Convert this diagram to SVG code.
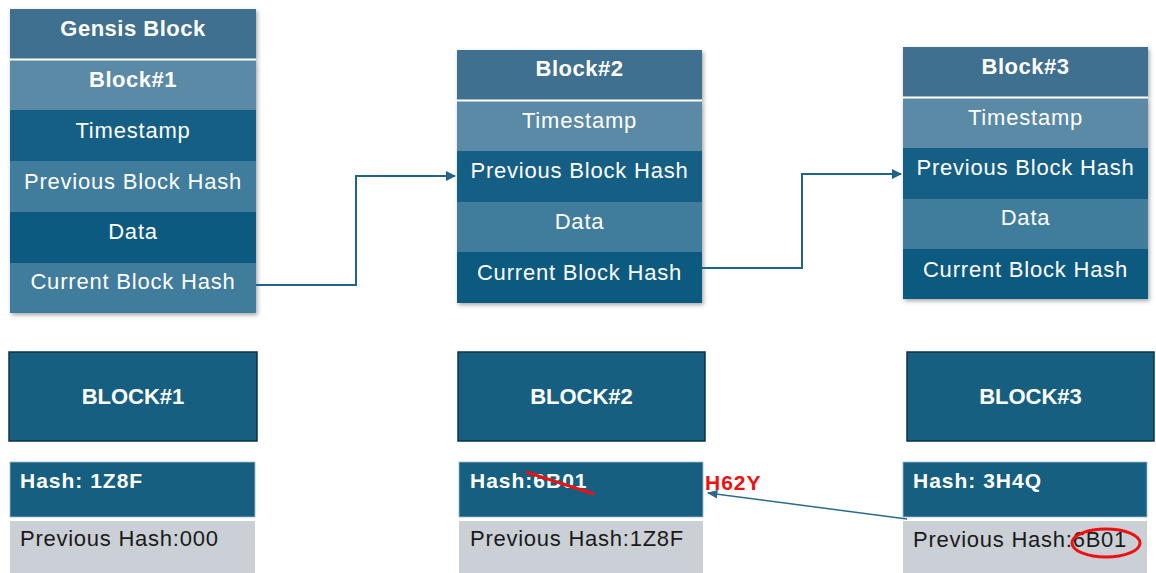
<svg xmlns="http://www.w3.org/2000/svg" width="1156" height="573" viewBox="0 0 1156 573">
  <style>
    .hdr { fill: #41708f; }
    .light { fill: #5a8aa6; }
    .mid { fill: #3f7c9c; }
    .dark { fill: #175f84; }
    .darker { fill: #0f5a80; }
    .sep { stroke: #ffffff; stroke-width: 2; }
    .t { font-family: "Liberation Sans", Arial, sans-serif; fill: #ffffff; text-anchor: middle; font-size: 22px; letter-spacing: 0.8px; }
    .tb { font-family: "Liberation Sans", Arial, sans-serif; fill: #ffffff; text-anchor: middle; font-size: 22px; font-weight: bold; letter-spacing: 0.5px; }
    .bb { font-family: "Liberation Sans", Arial, sans-serif; fill: #ffffff; text-anchor: middle; font-size: 22px; font-weight: bold; }
    .big { fill: #165f80; stroke: #0c3346; stroke-width: 1.5; }
    .hash { fill: #165f80; stroke: #9fb8c8; stroke-width: 0.8; }
    .prev { fill: #cbd0d7; }
    .hl { font-family: "Liberation Sans", Arial, sans-serif; fill: #ffffff; font-size: 21px; font-weight: bold; letter-spacing: 1px; }
    .pl { font-family: "Liberation Sans", Arial, sans-serif; fill: #1a1a1a; font-size: 22px; letter-spacing: 0.75px; }
    .link { fill: none; stroke: #1d6488; stroke-width: 2; }
    .red { fill: none; stroke: #ee1111; stroke-width: 3; }
  </style>
  <defs>
    <filter id="shadow" x="-10%" y="-10%" width="120%" height="120%">
      <feDropShadow dx="1.5" dy="2" stdDeviation="2" flood-color="#000000" flood-opacity="0.35"/>
    </filter>
    <marker id="arrow" viewBox="0 0 10 10" refX="9" refY="5" markerWidth="5" markerHeight="5" orient="auto">
      <path d="M0,0 L10,5 L0,10 z" fill="#1d6488"/>
    </marker>
    <marker id="arrowThin" viewBox="0 0 10 10" refX="9" refY="5" markerWidth="7" markerHeight="7" orient="auto">
      <path d="M0,1 L10,5 L0,9 z" fill="#2a6a8c"/>
    </marker>
  </defs>

  <rect width="1156" height="573" fill="#ffffff"/>

  <!-- Linked chain: upper blocks -->
  <g id="genesis-block">
    <g filter="url(#shadow)">
      <rect class="hdr" x="10" y="9" width="246" height="50"/>
      <rect class="light" x="10" y="60" width="246" height="50"/>
      <rect class="dark" x="10" y="110" width="246" height="51"/>
      <rect class="mid" x="10" y="161" width="246" height="51"/>
      <rect class="darker" x="10" y="212" width="246" height="51"/>
      <rect class="mid" x="10" y="263" width="246" height="50"/>
    </g>
    <line class="sep" x1="10" y1="59.5" x2="256" y2="59.5"/>
    <text class="tb" x="133" y="36">Gensis Block</text>
    <text class="tb" x="133" y="87">Block#1</text>
    <text class="t" x="133" y="138">Timestamp</text>
    <text class="t" x="133" y="189">Previous Block Hash</text>
    <text class="t" x="133" y="239">Data</text>
    <text class="t" x="133" y="289">Current Block Hash</text>
  </g>

  <g id="block-2">
    <g filter="url(#shadow)">
      <rect class="hdr" x="457" y="50" width="245" height="50"/>
      <rect class="light" x="457" y="101" width="245" height="50"/>
      <rect class="dark" x="457" y="151" width="245" height="51"/>
      <rect class="mid" x="457" y="202" width="245" height="50"/>
      <rect class="darker" x="457" y="252" width="245" height="51"/>
    </g>
    <line class="sep" x1="457" y1="100.5" x2="702" y2="100.5"/>
    <text class="tb" x="579.5" y="76">Block#2</text>
    <text class="t" x="579.5" y="128">Timestamp</text>
    <text class="t" x="579.5" y="178">Previous Block Hash</text>
    <text class="t" x="579.5" y="229">Data</text>
    <text class="t" x="579.5" y="280">Current Block Hash</text>
  </g>

  <g id="block-3">
    <g filter="url(#shadow)">
      <rect class="hdr" x="903" y="47" width="245" height="50"/>
      <rect class="light" x="903" y="98" width="245" height="50"/>
      <rect class="dark" x="903" y="148" width="245" height="51"/>
      <rect class="mid" x="903" y="199" width="245" height="50"/>
      <rect class="darker" x="903" y="249" width="245" height="50"/>
    </g>
    <line class="sep" x1="903" y1="97.5" x2="1148" y2="97.5"/>
    <text class="tb" x="1025.5" y="74">Block#3</text>
    <text class="t" x="1025.5" y="125">Timestamp</text>
    <text class="t" x="1025.5" y="175">Previous Block Hash</text>
    <text class="t" x="1025.5" y="225">Data</text>
    <text class="t" x="1025.5" y="277">Current Block Hash</text>
  </g>

  <!-- Lower row: hash view of each block -->
  <g id="block-1-hash">
    <rect class="big" x="9" y="352" width="248" height="89"/>
    <text class="bb" x="133" y="404">BLOCK#1</text>
    <rect class="hash" x="10" y="462" width="245" height="55"/>
    <text class="hl" x="20" y="488">Hash: 1Z8F</text>
    <rect class="prev" x="10" y="521" width="245" height="52"/>
    <text class="pl" x="20" y="546">Previous Hash:000</text>
  </g>

  <g id="block-2-hash">
    <rect class="big" x="458" y="352" width="247" height="89"/>
    <text class="bb" x="581.5" y="404">BLOCK#2</text>
    <rect class="hash" x="459" y="462" width="244" height="55"/>
    <text class="hl" x="470" y="488">Hash:6B01</text>
    <line class="red" x1="526" y1="472" x2="594" y2="494"/>
    <rect class="prev" x="459" y="521" width="244" height="52"/>
    <text class="pl" x="470" y="546">Previous Hash:1Z8F</text>
    <text x="705" y="490" font-family="Liberation Sans, Arial, sans-serif" font-size="21" font-weight="bold" letter-spacing="1" fill="#ee1111">H62Y</text>
  </g>

  <g id="block-3-hash">
    <rect class="big" x="907" y="352" width="247" height="89"/>
    <text class="bb" x="1030.5" y="404">BLOCK#3</text>
    <rect class="hash" x="903" y="462" width="244" height="55"/>
    <text class="hl" x="913" y="488">Hash: 3H4Q</text>
    <rect class="prev" x="903" y="521" width="244" height="52"/>
    <text class="pl" x="913" y="547">Previous Hash:6B01</text>
    <ellipse class="red" cx="1106" cy="543" rx="34" ry="14" stroke-width="2.5"/>
  </g>

  <!-- Connectors -->
  <g id="connectors">
    <polyline class="link" points="256,285 356,285 356,176 455,176" marker-end="url(#arrow)"/>
    <polyline class="link" points="702,268 802,268 802,174 901,174" marker-end="url(#arrow)"/>
    <line x1="907" y1="519" x2="708" y2="493" stroke="#2a6a8c" stroke-width="1.5" marker-end="url(#arrowThin)"/>
  </g>
</svg>
